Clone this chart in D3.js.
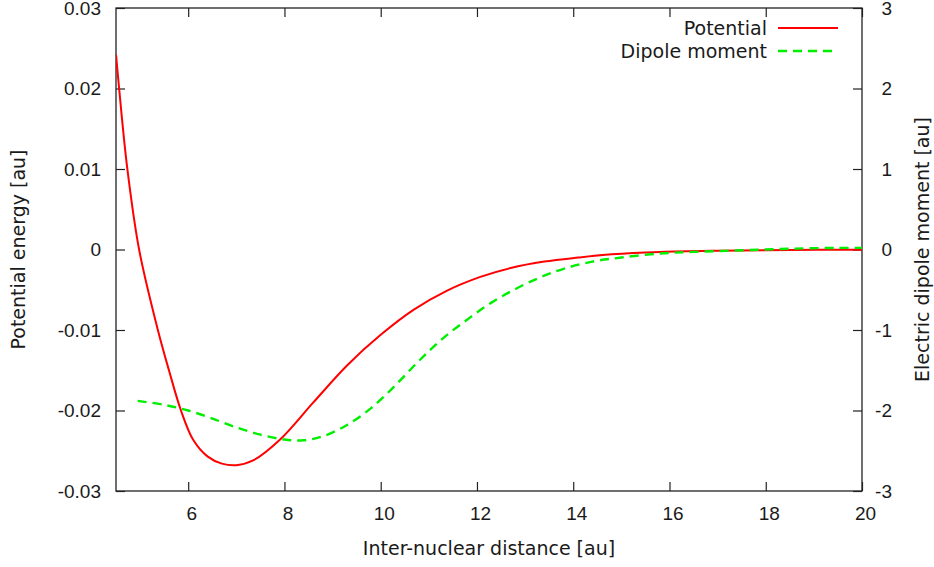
<!DOCTYPE html>
<html>
<head>
<meta charset="utf-8">
<script src="https://cdn.jsdelivr.net/npm/d3@7"></script>
<style>
  body { margin: 0; background: #fff; }
  svg { display: block; font-family: "DejaVu Sans", sans-serif; }
</style>
</head>
<body>
<svg width="934" height="567"></svg>
<script>
var potX = [4.5, 4.565, 4.73, 4.98, 5.37, 5.6, 5.85, 6.1, 6.4, 6.7, 7.0, 7.35, 7.91, 8.6, 9.3, 10.0, 10.68, 11.38, 12.07, 12.7, 13.4, 14.1, 14.8, 15.8, 17, 18.5, 20];
var potY = [0.0242, 0.0200, 0.0103, 0.0000, -0.0100, -0.0150, -0.0200, -0.0236, -0.0257, -0.0266, -0.0268, -0.0262, -0.0236, -0.0190, -0.0144, -0.0106, -0.0075, -0.0051, -0.0034, -0.0023, -0.0015, -0.0010, -0.0006, -0.0003, -0.00015, -0.00006, -0.00002];

var dipX = [4.95, 5.5, 6.0, 6.5, 7.0, 7.5, 8.0, 8.4, 8.8, 9.3, 9.8, 10.3, 10.8, 11.3, 11.8, 12.3, 12.8, 13.3, 13.8, 14.4, 15.0, 15.8, 16.5, 17.5, 18.5, 19.5, 20];
var dipY = [-1.88, -1.93, -2.00, -2.10, -2.21, -2.30, -2.36, -2.37, -2.32, -2.18, -1.97, -1.69, -1.38, -1.10, -0.87, -0.66, -0.49, -0.35, -0.24, -0.15, -0.10, -0.05, -0.03, -0.01, 0.01, 0.02, 0.02];

var xTicks = [6, 8, 10, 12, 14, 16, 18, 20];
var y1Ticks = [0.03, 0.02, 0.01, 0, -0.01, -0.02, -0.03];
var y1Labels = ["0.03", "0.02", "0.01", "0", "-0.01", "-0.02", "-0.03"];
var y2Ticks = [3, 2, 1, 0, -1, -2, -3];
var y2Labels = ["3", "2", "1", "0", "-1", "-2", "-3"];

var svg = d3.select("svg");
var margin = {top: 8, right: 72, bottom: 76, left: 116};
var width = 934 - margin.left - margin.right;
var height = 567 - margin.top - margin.bottom;
var g = svg.append("g").attr("transform", "translate(" + margin.left + "," + margin.top + ")");

var x = d3.scaleLinear().domain([4.5, 20]).range([0, width]);
var y1 = d3.scaleLinear().domain([-0.03, 0.03]).range([height, 0]);
var y2 = d3.scaleLinear().domain([-3, 3]).range([height, 0]);

var textCol = "#1a1a1a";
var fs = "19px";

function styleAxis(sel) {
  sel.select(".domain").remove();
  sel.selectAll(".tick line").attr("stroke", "#222").attr("stroke-width", 1.2);
  sel.selectAll(".tick text").attr("fill", textCol).style("font-size", fs);
}

g.append("g")
  .attr("transform", "translate(0," + height + ")")
  .call(d3.axisBottom(x).tickValues(xTicks).tickSize(-9).tickPadding(16).tickFormat(d3.format("d")))
  .call(styleAxis)
  .selectAll(".tick text").attr("dx", 3);

g.append("g")
  .call(d3.axisTop(x).tickValues(xTicks).tickSize(-9).tickFormat(""))
  .call(styleAxis);

g.append("g")
  .call(d3.axisLeft(y1).tickValues(y1Ticks).tickSize(-9).tickPadding(15)
    .tickFormat(function(d, i) { return y1Labels[i]; }))
  .call(styleAxis);

g.append("g")
  .attr("transform", "translate(" + width + ",0)")
  .call(d3.axisRight(y2).tickValues(y2Ticks).tickSize(-9)
    .tickFormat(function(d, i) { return y2Labels[i]; }))
  .call(styleAxis)
  .selectAll(".tick text").attr("text-anchor", "end").attr("x", 30);

// frame
g.append("rect")
  .attr("width", width).attr("height", height)
  .attr("fill", "none").attr("stroke", "#222").attr("stroke-width", 1.3);

svg.append("clipPath").attr("id", "clip")
  .append("rect").attr("width", width).attr("height", height);

var potLine = d3.line()
  .x(function(d, i) { return x(potX[i]); })
  .y(function(d) { return y1(d); })
  .curve(d3.curveCatmullRom.alpha(0.5));

var dipLine = d3.line()
  .x(function(d, i) { return x(dipX[i]); })
  .y(function(d) { return y2(d); })
  .curve(d3.curveCatmullRom.alpha(0.5));

var plot = g.append("g").attr("clip-path", "url(#clip)");

plot.append("path")
  .datum(potY)
  .attr("fill", "none")
  .attr("stroke", "#ff0000")
  .attr("stroke-width", 2)
  .attr("d", potLine);

plot.append("path")
  .datum(dipY)
  .attr("fill", "none")
  .attr("stroke", "#00ee00")
  .attr("stroke-width", 2.4)
  .attr("stroke-dasharray", "9,6")
  .attr("d", dipLine);

// legend
var legend = [
  {name: "Potential", color: "#ff0000", dash: null, y: 28},
  {name: "Dipole moment", color: "#00ee00", dash: "9,6", y: 51}
];
var lg = svg.append("g");
legend.forEach(function(l) {
  lg.append("text")
    .attr("x", 767).attr("y", l.y).attr("dy", "0.35em")
    .attr("text-anchor", "end")
    .attr("fill", textCol)
    .style("font-size", fs)
    .text(l.name);
  lg.append("line")
    .attr("x1", 778).attr("x2", 838)
    .attr("y1", l.y).attr("y2", l.y)
    .attr("stroke", l.color)
    .attr("stroke-width", l.dash ? 2.4 : 2)
    .attr("stroke-dasharray", l.dash);
});

// axis titles
svg.append("text")
  .attr("x", margin.left + width / 2).attr("y", 548).attr("dy", "0.35em")
  .attr("text-anchor", "middle").attr("fill", textCol)
  .style("font-size", fs)
  .text("Inter-nuclear distance [au]");

svg.append("text")
  .attr("transform", "translate(18," + (margin.top + height / 2) + ") rotate(-90)")
  .attr("dy", "0.35em")
  .attr("text-anchor", "middle").attr("fill", textCol)
  .style("font-size", fs)
  .text("Potential energy [au]");

svg.append("text")
  .attr("transform", "translate(922," + (margin.top + height / 2) + ") rotate(-90)")
  .attr("dy", "0.35em")
  .attr("text-anchor", "middle").attr("fill", textCol)
  .style("font-size", fs)
  .text("Electric dipole moment [au]");
</script>
</body>
</html>
